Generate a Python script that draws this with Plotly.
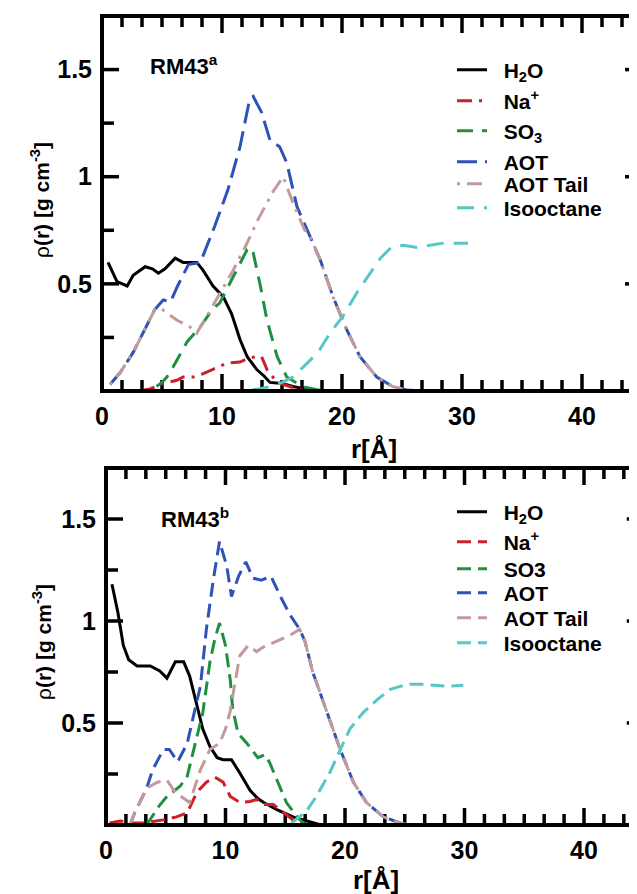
import plotly.graph_objects as go

W, H = 637, 894
OFF = 8  # page body margin offset (px) in the photographed page
FONT = "Liberation Sans, Arial, sans-serif"

# ---------------- Panel a (RM43^a) ----------------
h2o_a_r = [0.5, 1.25, 2.1, 2.6, 3.6, 4.2, 4.7, 5.25, 6.1, 6.75, 7.9, 8.4, 9.25, 10.1, 10.8, 11.5, 12.1, 12.9, 13.5, 14.0, 15.0, 16.0, 17.0, 18.0]
h2o_a = [0.60, 0.51, 0.49, 0.54, 0.58, 0.57, 0.55, 0.57, 0.62, 0.60, 0.60, 0.565, 0.49, 0.44, 0.36, 0.24, 0.16, 0.10, 0.07, 0.04, 0.035, 0.02, 0.01, 0.0]

na_a_r = [0.5, 3.0, 4.0, 5.1, 6.25, 6.75, 7.6, 8.4, 9.2, 10.1, 10.4, 11.5, 12.3, 12.9, 13.3, 13.75, 14.6, 15.7, 17.0]
na_a = [0.0, 0.0, 0.01, 0.035, 0.05, 0.065, 0.065, 0.08, 0.10, 0.12, 0.13, 0.135, 0.155, 0.16, 0.16, 0.10, 0.04, 0.02, 0.0]

so3_a_r = [0.5, 4.0, 5.0, 5.4, 5.9, 7.1, 8.2, 9.25, 9.8, 10.9, 12.1, 12.4, 12.6, 13.2, 13.75, 14.6, 15.4, 16.75, 18.0, 19.0]
so3_a = [0.0, 0.0, 0.04, 0.065, 0.11, 0.23, 0.30, 0.385, 0.41, 0.53, 0.66, 0.67, 0.645, 0.49, 0.33, 0.16, 0.065, 0.02, 0.005, 0.0]

aot_a_r = [0.67, 1.5, 2.6, 3.4, 4.4, 5.1, 5.7, 6.3, 7.2, 8.2, 9.4, 10.5, 11.5, 12.3, 12.6, 13.3, 14.0, 14.8, 15.4, 16.25, 17.2, 18.2, 19.25, 20.4, 21.5, 22.9, 24.25, 25.4, 26.5]
aot_a = [0.03, 0.085, 0.18, 0.27, 0.38, 0.425, 0.415, 0.49, 0.59, 0.60, 0.77, 0.94, 1.14, 1.36, 1.375, 1.30, 1.17, 1.14, 1.065, 0.86, 0.74, 0.61, 0.44, 0.285, 0.16, 0.065, 0.02, 0.005, 0.0]

tail_a_r = [0.67, 1.5, 2.6, 3.4, 4.4, 4.8, 6.25, 7.3, 7.9, 8.75, 9.8, 10.9, 12.0, 13.0, 14.25, 15.1, 15.9, 16.9, 17.2, 18.2, 19.25, 20.4, 21.5, 22.9, 24.25, 25.4, 26.5]
tail_a = [0.03, 0.085, 0.18, 0.27, 0.38, 0.39, 0.33, 0.30, 0.27, 0.35, 0.45, 0.56, 0.68, 0.80, 0.93, 1.0, 0.88, 0.75, 0.74, 0.61, 0.44, 0.285, 0.16, 0.065, 0.02, 0.005, 0.0]

iso_a_r = [8.0, 12.0, 13.0, 14.0, 15.0, 15.9, 17.1, 18.0, 19.0, 20.1, 21.25, 22.1, 23.2, 24.1, 25.1, 26.25, 27.3, 28.4, 29.6, 30.5]
iso_a = [0.0, 0.0, 0.01, 0.02, 0.04, 0.065, 0.13, 0.18, 0.27, 0.35, 0.46, 0.53, 0.62, 0.67, 0.68, 0.67, 0.68, 0.69, 0.69, 0.69]

# ---------------- Panel b (RM43^b) ----------------
h2o_b_r = [0.5, 1.0, 1.45, 1.9, 2.6, 3.7, 4.5, 5.1, 5.8, 6.5, 7.0, 7.6, 8.1, 8.7, 9.3, 9.8, 10.5, 11.2, 12.05, 12.7, 13.2, 14.3, 15.65, 17.1, 18.0]
h2o_b = [1.18, 1.04, 0.88, 0.81, 0.78, 0.78, 0.755, 0.72, 0.80, 0.80, 0.73, 0.58, 0.47, 0.385, 0.33, 0.32, 0.32, 0.255, 0.17, 0.13, 0.11, 0.075, 0.04, 0.015, 0.0]

na_b_r = [0.3, 1.2, 2.3, 3.1, 4.8, 5.9, 6.8, 7.6, 8.4, 9.1, 9.8, 10.4, 11.2, 12.05, 12.6, 13.2, 14.0, 14.8, 15.65, 16.4, 17.0]
na_b = [0.01, 0.02, 0.01, 0.01, 0.025, 0.04, 0.06, 0.16, 0.21, 0.235, 0.21, 0.14, 0.11, 0.115, 0.125, 0.10, 0.10, 0.065, 0.025, 0.01, 0.0]

so3_b_r = [3.4, 4.4, 5.1, 6.2, 6.8, 7.6, 8.1, 8.7, 9.1, 9.5, 10.0, 10.4, 10.6, 11.05, 11.8, 12.7, 13.3, 13.7, 14.3, 15.1, 16.0, 16.5, 17.0]
so3_b = [0.0, 0.09, 0.14, 0.19, 0.24, 0.43, 0.55, 0.80, 0.91, 0.99, 0.88, 0.71, 0.57, 0.45, 0.40, 0.33, 0.345, 0.305, 0.22, 0.11, 0.04, 0.01, 0.0]

aot_b_r = [2.0, 2.4, 3.4, 3.9, 4.8, 5.3, 6.0, 6.8, 7.3, 7.9, 8.4, 9.0, 9.5, 10.1, 10.5, 11.1, 11.7, 12.3, 13.0, 13.8, 14.6, 15.4, 16.2, 16.65, 17.3, 18.5, 19.6, 20.7, 21.8, 23.2, 24.6, 25.5]
aot_b = [0.0, 0.06, 0.18, 0.27, 0.37, 0.37, 0.31, 0.40, 0.53, 0.68, 0.96, 1.21, 1.39, 1.27, 1.12, 1.22, 1.29, 1.21, 1.20, 1.22, 1.12, 1.03, 0.96, 0.90, 0.75, 0.55, 0.37, 0.21, 0.11, 0.04, 0.01, 0.0]

tail_b_r = [2.0, 2.4, 3.4, 4.3, 5.1, 5.8, 7.0, 7.9, 8.7, 9.5, 10.0, 10.4, 10.8, 11.2, 11.9, 12.6, 13.1, 14.3, 15.4, 16.2, 16.65, 17.3, 18.5, 19.6, 20.7, 21.8, 23.2, 24.6, 25.5]
tail_b = [0.0, 0.06, 0.18, 0.21, 0.22, 0.16, 0.11, 0.27, 0.37, 0.40, 0.47, 0.56, 0.70, 0.83, 0.88, 0.85, 0.87, 0.90, 0.93, 0.96, 0.90, 0.75, 0.55, 0.37, 0.21, 0.11, 0.04, 0.01, 0.0]

iso_b_r = [12.0, 14.0, 15.0, 15.65, 16.8, 17.6, 18.75, 19.6, 20.4, 21.5, 22.7, 23.8, 25.2, 26.4, 27.4, 28.5, 29.9]
iso_b = [0.0, 0.0, 0.005, 0.015, 0.07, 0.14, 0.26, 0.37, 0.47, 0.55, 0.615, 0.665, 0.69, 0.69, 0.685, 0.68, 0.685]

x_ticks = [0, 10, 20, 30, 40]
x_minor = [v / 6 * 10 for v in range(1, 27) if v % 6 != 0]
y_ticks = [0.5, 1, 1.5]
y_ticklabels = ["0.5", "1", "1.5"]
y_minor = [0.25, 0.75, 1.25]
X_RANGE = [0, 45]
Y_RANGE = [0, 1.75]

NB = "\u00a0\u00a0"
names_a = ["H<sub>2</sub>O", "Na<sup>+</sup>", "SO<sub>3</sub>", "AOT", "AOT Tail", "Isooctane"]
names_b = ["H<sub>2</sub>O", "Na<sup>+</sup>", "SO3", "AOT", "AOT Tail", "Isooctane"]

colors = ["#000000", "#cc1f2a", "#1f9040", "#2f52b8", "#c39a9c", "#55c8c6"]
dash_a = ["solid", "15px,7px,3px,7px", "16px,9px", "20px,8px", "3px,7px,15px,7px", "17px,10px"]
dash_b = ["solid", "14px,7px", "14px,7px", "14px,7px", "14px,7px", "14px,7px"]

leg_rows_a = [70, 101, 131, 162, 184, 208]
leg_rows_b = [512, 542, 569, 593, 618, 643]

series_a = [(h2o_a_r, h2o_a), (na_a_r, na_a), (so3_a_r, so3_a), (aot_a_r, aot_a), (tail_a_r, tail_a), (iso_a_r, iso_a)]
series_b = [(h2o_b_r, h2o_b), (na_b_r, na_b), (so3_b_r, so3_b), (aot_b_r, aot_b), (tail_b_r, tail_b), (iso_b_r, iso_b)]


def px_x(p):
    return (p - OFF) / W


def px_y(p):
    return 1 - (p - OFF) / H


# panel geometry (page px)
panels = [
    dict(xr="x", yr="y", left=102, right=102 + 12.0 * 45, top=16, bottom=391),
    dict(xr="x2", yr="y2", left=106, right=106 + 11.95 * 45, top=468, bottom=825),
]

fig = go.Figure()

# tick marks on all four sides of each panel, drawn through the panel's axes
for p in panels:
    x_per_px = (X_RANGE[1] - X_RANGE[0]) / (p["right"] - p["left"])
    y_per_px = (Y_RANGE[1] - Y_RANGE[0]) / (p["bottom"] - p["top"])
    tx, ty = [], []
    for vals, ln in ((x_ticks, 17), (x_minor, 11)):
        d = ln * y_per_px
        for v in vals:
            tx += [v, v, None, v, v, None]
            ty += [Y_RANGE[0], Y_RANGE[0] + d, None, Y_RANGE[1], Y_RANGE[1] - d, None]
    for vals, ln in ((y_ticks, 17), (y_minor, 12)):
        d = ln * x_per_px
        for v in vals:
            tx += [X_RANGE[0], X_RANGE[0] + d, None, X_RANGE[1], X_RANGE[1] - d, None]
            ty += [v, v, None, v, v, None]
    fig.add_trace(go.Scatter(x=tx, y=ty, mode="lines", xaxis=p["xr"], yaxis=p["yr"], showlegend=False,
                             hoverinfo="skip", cliponaxis=False, connectgaps=False,
                             line=dict(color="black", width=3.5, simplify=False)))

legends = {}
leg_font = dict(family=FONT, size=21, color="black", weight="bold")
k = 1
for panel, series, names, dashes, rows, xa, ya in (
        ("a", series_a, names_a, dash_a, leg_rows_a, "x", "y"),
        ("b", series_b, names_b, dash_b, leg_rows_b, "x2", "y2")):
    for i, (r, v) in enumerate(series):
        lname = "legend" if k == 1 else f"legend{k}"
        fig.add_trace(go.Scatter(x=r, y=v, mode="lines", name=NB + names[i], xaxis=xa, yaxis=ya,
                                 line=dict(color=colors[i], width=3, dash=dashes[i]), legend=lname))
        legends[lname] = dict(x=px_x(452), y=px_y(rows[i]), xanchor="left", yanchor="middle",
                              bgcolor="rgba(0,0,0,0)", font=leg_font, itemwidth=30)
        k += 1

tickfont = dict(family=FONT, size=25, color="black", weight="bold")
common = dict(showgrid=False, zeroline=False, showline=False, ticks="", tickmode="array", tickfont=tickfont)

layout_axes = {}
for n, p in enumerate(panels, start=1):
    sfx = "" if n == 1 else str(n)
    layout_axes["xaxis" + sfx] = dict(domain=[px_x(p["left"]), px_x(p["right"])], range=X_RANGE,
                                      anchor=p["yr"], tickvals=x_ticks, ticktext=[str(t) for t in x_ticks],
                                      ticklabelstandoff=8, **common)
    layout_axes["yaxis" + sfx] = dict(domain=[px_y(p["bottom"]), px_y(p["top"])], range=Y_RANGE,
                                      anchor=p["xr"], tickvals=y_ticks, ticktext=y_ticklabels,
                                      ticklabelstandoff=9, **common)

fig.update_layout(
    width=W, height=H,
    margin=dict(l=0, r=0, t=0, b=0, autoexpand=False),
    paper_bgcolor="white", plot_bgcolor="white",
    font=dict(family=FONT, color="black"),
    showlegend=True,
    **layout_axes,
    **legends,
)

# panel frames
shapes = []
for p in panels:
    shapes.append(dict(type="rect", xref=f"{p['xr']} domain", yref=f"{p['yr']} domain", x0=0, x1=1, y0=0, y1=1,
                       line=dict(color="black", width=4), layer="above"))
fig.update_layout(shapes=shapes)

ann_font = dict(family=FONT, size=22, color="black", weight="bold")
title_font = dict(family=FONT, size=26, color="black", weight="bold")
ylab_font = dict(family=FONT, size=21, color="black")
annotations = [
    dict(text="RM43<sup>a</sup>", x=px_x(148), y=px_y(65), xref="paper", yref="paper", xanchor="left",
         yanchor="middle", showarrow=False, font=ann_font),
    dict(text="RM43<sup>b</sup>", x=px_x(159), y=px_y(518), xref="paper", yref="paper", xanchor="left",
         yanchor="middle", showarrow=False, font=ann_font),
    dict(text="r[Å]", x=px_x(374), y=px_y(449), xref="paper", yref="paper", xanchor="center", yanchor="middle",
         showarrow=False, font=title_font),
    dict(text="r[Å]", x=px_x(376), y=px_y(880), xref="paper", yref="paper", xanchor="center", yanchor="middle",
         showarrow=False, font=title_font),
    dict(text="ρ<b>(r) [g cm<sup>-3</sup>]</b>", x=px_x(40), y=px_y(200), xref="paper", yref="paper",
         xanchor="center", yanchor="middle", textangle=-90, showarrow=False, font=ylab_font),
    dict(text="ρ<b>(r) [g cm<sup>-3</sup>]</b>", x=px_x(42), y=px_y(642), xref="paper", yref="paper",
         xanchor="center", yanchor="middle", textangle=-90, showarrow=False, font=ylab_font),
]
fig.update_layout(annotations=annotations)

fig.write_html("out.html")
